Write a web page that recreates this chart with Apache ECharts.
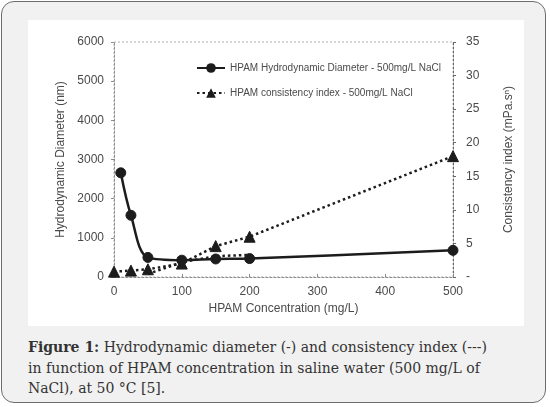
<!DOCTYPE html>
<html>
<head>
<meta charset="utf-8">
<script src="https://cdn.jsdelivr.net/npm/echarts@6/dist/echarts.min.js"></script>
<style>
  html, body { margin: 0; padding: 0; background: #ffffff; }
  #frame {
    position: absolute; left: 1px; top: 1px; width: 545px; height: 402px;
    box-sizing: border-box; border: 1.5px solid #6d6d6d; border-radius: 13px;
    background: #f1f1f1;
  }
  #chart { position: absolute; left: 26px; top: 18px; width: 496px; height: 306px; background: #ffffff; }
  #caption {
    position: absolute; left: 26px; top: 335px; width: 468px;
    font-family: "DejaVu Serif", "Liberation Serif", serif; font-size: 14px; line-height: 20.5px; color: #333333;
  }
  #caption b { font-weight: bold; }
</style>
</head>
<body>
<div id="frame">
  <div id="chart"></div>
  <div id="caption"><b>Figure 1:</b> Hydrodynamic diameter (-) and consistency index (---) in function of HPAM concentration in saline water (500 mg/L of NaCl), at 50 °C [5].</div>
</div>
<script>
// Data
const diamConc = [10, 25, 50, 100, 150, 200, 500];
const diamValues = [2660, 1575, 500, 430, 460, 470, 680];           // nm, left axis
const consConc = [0, 25, 50, 100, 150, 200, 500];
const consValues = [0.8, 0.95, 1.15, 2.0, 4.6, 6.0, 18.0];          // mPa.s^n, right axis
const consLowConc = [50, 100, 150, 200];
const consLowValues = [0.45, 2.2, 3.1, 3.3];                         // second dotted trace
const xTicks = { min: 0, max: 500, interval: 100 };
const yLeftTicks = { min: 0, max: 6000, interval: 1000 };
const yRightTicks = { min: 0, max: 35, interval: 5 };

const nameDiam = 'HPAM Hydrodynamic Diameter - 500mg/L NaCl';
const nameCons = 'HPAM consistency index - 500mg/L NaCl';

const pairs = (xs, ys) => xs.map((x, i) => [x, ys[i]]);

const chart = echarts.init(document.getElementById('chart'), null, { renderer: 'canvas' });
const axisText = { color: '#4a4a4a', fontFamily: 'Arial, "Liberation Sans", sans-serif', fontSize: 12 };
const ink = '#1c1c1c';

chart.setOption({
  animation: false,
  grid: {
    left: 86, right: 71, top: 22, bottom: 49,
    show: true, borderColor: '#b0b0b0', borderWidth: 1, borderType: [2, 2]
  },
  legend: {
    orient: 'vertical', left: 163, top: 38, itemGap: 15,
    itemWidth: 28, itemHeight: 12,
    textStyle: { color: '#4a4a4a', fontFamily: 'Arial, "Liberation Sans", sans-serif', fontSize: 10 },
    data: [nameDiam, nameCons]
  },
  xAxis: {
    type: 'value', min: xTicks.min, max: xTicks.max, interval: xTicks.interval,
    name: 'HPAM Concentration (mg/L)', nameLocation: 'middle', nameGap: 24,
    nameTextStyle: axisText,
    axisLine: { show: true, lineStyle: { color: '#8a8a8a', type: [2, 2], width: 1 } },
    axisTick: { show: true, inside: true, length: 3, lineStyle: { color: '#8a8a8a' } },
    axisLabel: Object.assign({ margin: 9, formatter: v => String(v) }, axisText),
    splitLine: { show: false }
  },
  yAxis: [
    {
      type: 'value', min: yLeftTicks.min, max: yLeftTicks.max, interval: yLeftTicks.interval,
      name: 'Hydrodynamic Diameter (nm)', nameLocation: 'middle', nameGap: 39,
      nameTextStyle: axisText,
      axisLine: { show: true, lineStyle: { color: '#8a8a8a', type: [2, 2], width: 1 } },
      axisTick: { show: true, length: 3, lineStyle: { color: '#8a8a8a' } },
      axisLabel: Object.assign({ margin: 10, formatter: v => String(v) }, axisText),
      splitLine: { show: false }
    },
    {
      type: 'value', min: yRightTicks.min, max: yRightTicks.max, interval: yRightTicks.interval,
      position: 'right',
      name: 'Consistency index (mPa.sⁿ)', nameLocation: 'middle', nameGap: 50,
      nameTextStyle: axisText,
      axisLine: { show: true, lineStyle: { color: '#666666', type: [2, 2], width: 1 } },
      axisTick: { show: true, length: 3, lineStyle: { color: '#666666' } },
      axisLabel: Object.assign({ margin: 13, formatter: v => (v === 0 ? '-' : String(v)) }, axisText),
      splitLine: { show: false }
    }
  ],
  series: [
    {
      name: nameDiam, type: 'line', yAxisIndex: 0, smooth: 0.35,
      data: pairs(diamConc, diamValues),
      symbol: 'circle', symbolSize: 10,
      itemStyle: { color: ink, borderColor: ink },
      lineStyle: { color: ink, width: 2.5, type: 'solid' },
      z: 3
    },
    {
      name: nameCons, type: 'line', yAxisIndex: 1, smooth: false,
      data: pairs(consConc, consValues),
      symbol: 'triangle', symbolSize: 11,
      itemStyle: { color: ink, borderColor: ink },
      lineStyle: { color: ink, width: 2.5, type: [2.5, 3] },
      z: 2
    },
    {
      name: 'lower trace', type: 'line', yAxisIndex: 1, smooth: false,
      data: pairs(consLowConc, consLowValues),
      symbol: 'none',
      lineStyle: { color: ink, width: 2.5, type: [2.5, 3] },
      z: 2
    }
  ]
});
</script>
</body>
</html>
